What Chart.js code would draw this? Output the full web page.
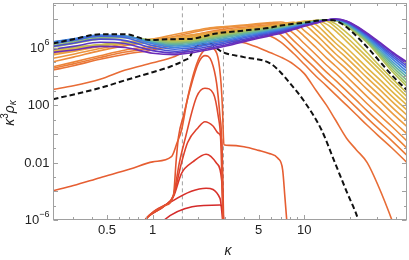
<!DOCTYPE html>
<html lang="en">
<head>
<meta charset="UTF-8">
<script src="https://cdn.jsdelivr.net/npm/chart.js@4.4.3/dist/chart.umd.min.js"></script>
<style>
  html, body { margin: 0; padding: 0; background: #fff; }
  canvas { display: block; }
</style>
</head>
<body>
<canvas id="chart" width="409" height="260"></canvas>
<script>
// all curve values are log10(κ³ρκ)
const kGrid = [0.22, 0.3, 0.45, 0.66, 1.0, 1.4, 1.8, 2.3, 3.0, 4.0, 5.0, 6.0, 7.0, 8.5, 10, 12, 14, 16, 19, 22, 26, 31, 38, 47.6];

// early, sharply peaked spectra
const pK1 = [1.12, 1.19, 2.78, 2.9, 2.97];
const p1  = [-6.5, -6.0, -4.95, -5.3, -7];
const pK2 = [0.85, 0.89, 1.33, 1.8, 2.25, 2.78, 2.95];
const p2  = [-6.4, -6.0, -4.72, -4.0, -3.79, -4.49, -7];
const pK3 = [0.85, 0.89, 1.2, 1.37, 1.55, 1.85, 2.25, 2.64, 2.85, 2.95];
const p3  = [-6.4, -6.0, -5.0, -4.38, -2.75, -1.94, -1.42, -2.05, -3.21, -7];
const pK4 = [0.85, 0.89, 1.2, 1.37, 1.55, 1.7, 2.0, 2.21, 2.5, 2.71, 2.85, 2.95];
const p4  = [-6.4, -6.0, -5.0, -4.3, -2.0, -0.6, 0.45, 0.85, 0.55, 0.04, -0.42, -7];
const pK5 = [0.85, 0.89, 1.2, 1.37, 1.5, 1.63, 1.95, 2.21, 2.51, 2.71, 2.81, 2.93];
const p5  = [-6.4, -6.0, -5.0, -4.3, -2.0, -0.42, 2.59, 3.18, 2.83, 1.2, -0.42, -7];
const pK6 = [0.85, 0.89, 1.2, 1.37, 1.43, 1.48, 1.6, 1.76, 2.0, 2.21, 2.45, 2.64, 2.78, 2.85, 2.92];
const p6  = [-6.4, -6.0, -5.0, -4.3, -1.8, -0.2, 1.3, 3.06, 4.92, 5.45, 5.03, 3.53, 1.2, -0.42, -7];
const rK7 = [0.22, 0.3, 0.45, 0.71, 1.0, 1.33, 1.45, 1.55, 1.7, 1.9, 2.1, 2.4, 2.65, 2.8, 2.88, 2.95, 3.2, 4.0, 5.0, 5.8, 6.7, 7.2, 7.45, 7.66, 7.8];
const r7  = [-3.96, -3.6, -3.05, -2.45, -1.95, -1.59, -0.6, 0.27, 2.5, 4.5, 5.6, 6.0, 5.6, 4.0, 2.0, -0.75, -0.8, -0.9, -1.15, -1.35, -1.7, -2.5, -4.4, -6.0, -7];

// intermediate spectra (orange -> gold), on kGrid
const o1  = [3.1, 3.35, 3.8, 4.45, 4.95, 5.4, 5.95, 6.3, 6.5, 6.35, 6.0, 5.65, 5.35, 4.85, 4.2, 3.0, 2.0, 1.0, -0.3, -1.1, -2.0, -3.7, -6.05, -9];
const o2  = [4.45, 4.75, 5.2, 5.55, 5.85, 6.2, 6.5, 6.75, 6.95, 7.05, 7.0, 6.8, 6.4, 5.6, 4.85, 4.0, 3.35, 2.75, 2.0, 1.35, 0.6, -0.15, -1.0, -2.0];
const o3  = [4.57, 4.88, 5.32, 5.7, 6.0, 6.4, 6.7, 6.95, 7.15, 7.28, 7.35, 7.3, 6.9, 6.05, 5.3, 4.5, 3.8, 3.25, 2.5, 1.85, 1.1, 0.35, -0.5, -1.5];
const o4  = [4.68, 5.0, 5.45, 5.85, 6.15, 6.55, 6.85, 7.1, 7.3, 7.43, 7.53, 7.6, 7.35, 6.5, 5.8, 5.0, 4.3, 3.75, 3.0, 2.35, 1.6, 0.85, 0.0, -1.0];
const o5  = [5.03, 5.35, 5.8, 6.15, 6.45, 6.8, 7.05, 7.28, 7.42, 7.53, 7.63, 7.7, 7.6, 7.0, 6.3, 5.5, 4.8, 4.25, 3.5, 2.85, 2.1, 1.35, 0.5, -0.5];
const o6  = [5.27, 5.55, 5.95, 6.28, 6.6, 6.92, 7.15, 7.36, 7.48, 7.58, 7.68, 7.75, 7.8, 7.45, 6.8, 6.0, 5.3, 4.75, 4.0, 3.35, 2.6, 1.85, 0.95, 0.0];
const o7  = [5.5, 5.75, 6.1, 6.4, 6.6, 6.75, 6.9, 7.05, 7.2, 7.35, 7.47, 7.57, 7.68, 7.78, 7.2, 6.5, 5.8, 5.2, 4.5, 3.85, 3.1, 2.35, 1.45, 0.5];
const o8  = [5.6, 5.82, 6.15, 6.4, 6.52, 6.65, 6.8, 6.98, 7.13, 7.3, 7.42, 7.52, 7.63, 7.75, 7.6, 6.9, 6.2, 5.6, 4.9, 4.25, 3.5, 2.75, 1.85, 0.9];
const o9  = [5.65, 5.85, 6.15, 6.38, 6.48, 6.6, 6.72, 6.92, 7.08, 7.25, 7.38, 7.48, 7.6, 7.72, 7.85, 7.25, 6.6, 6.0, 5.3, 4.65, 3.9, 3.15, 2.25, 1.3];
const o10 = [5.7, 5.88, 6.15, 6.36, 6.45, 6.55, 6.68, 6.88, 7.04, 7.21, 7.34, 7.45, 7.57, 7.7, 7.83, 7.6, 6.95, 6.35, 5.65, 5.0, 4.25, 3.5, 2.6, 1.65];
const o11 = [5.75, 5.92, 6.17, 6.35, 6.42, 6.5, 6.64, 6.84, 7.0, 7.18, 7.31, 7.42, 7.54, 7.68, 7.82, 7.9, 7.3, 6.7, 6.0, 5.35, 4.6, 3.85, 2.95, 2.0];
const o12 = [5.8, 5.95, 6.18, 6.34, 6.4, 6.45, 6.6, 6.8, 6.97, 7.15, 7.28, 7.4, 7.52, 7.66, 7.8, 7.9, 7.65, 7.2, 6.45, 5.8, 5.05, 4.25, 3.3, 2.3];
const o13 = [5.85, 6.0, 6.2, 6.34, 6.38, 6.42, 6.56, 6.76, 6.93, 7.12, 7.25, 7.37, 7.5, 7.64, 7.79, 7.9, 7.86, 7.45, 6.75, 6.1, 5.35, 4.55, 3.6, 2.6];
const o14 = [5.9, 6.04, 6.22, 6.34, 6.36, 6.4, 6.52, 6.72, 6.9, 7.09, 7.22, 7.35, 7.48, 7.62, 7.78, 7.9, 7.93, 7.68, 7.05, 6.45, 5.65, 4.8, 3.85, 2.85];

// late spectra (yellow-green -> purple), on kGrid
const b1  = [6.05, 6.3, 6.62, 6.7, 6.55, 6.45, 6.5, 6.72, 6.95, 7.17, 7.3, 7.4, 7.5, 7.63, 7.75, 7.88, 7.93, 7.9, 7.5, 7.0, 6.35, 5.45, 4.35, 3.3];
const b2  = [6.15, 6.4, 6.7, 6.75, 6.5, 6.38, 6.45, 6.66, 6.88, 7.1, 7.24, 7.35, 7.45, 7.6, 7.72, 7.87, 7.94, 7.92, 7.56, 7.07, 6.43, 5.58, 4.52, 3.5];
const b3  = [6.25, 6.48, 6.77, 6.78, 6.45, 6.3, 6.38, 6.59, 6.8, 7.03, 7.18, 7.3, 7.4, 7.56, 7.7, 7.86, 7.94, 7.93, 7.62, 7.14, 6.52, 5.7, 4.7, 3.72];
const b4  = [6.32, 6.55, 6.82, 6.8, 6.4, 6.22, 6.3, 6.5, 6.72, 6.95, 7.12, 7.25, 7.35, 7.52, 7.67, 7.84, 7.94, 7.95, 7.67, 7.2, 6.6, 5.83, 4.88, 3.95];
const b5  = [6.4, 6.6, 6.86, 6.82, 6.35, 6.12, 6.22, 6.42, 6.62, 6.87, 7.05, 7.19, 7.3, 7.48, 7.64, 7.82, 7.94, 7.96, 7.72, 7.27, 6.68, 5.95, 5.05, 4.15];
const b6  = [6.42, 6.62, 6.88, 6.8, 6.28, 6.02, 6.12, 6.32, 6.52, 6.79, 6.98, 7.13, 7.25, 7.44, 7.61, 7.8, 7.94, 7.97, 7.76, 7.33, 6.76, 6.07, 5.22, 4.35];
const b7  = [6.3, 6.52, 6.8, 6.7, 6.15, 5.9, 6.0, 6.2, 6.42, 6.7, 6.9, 7.06, 7.19, 7.4, 7.58, 7.78, 7.93, 7.98, 7.79, 7.39, 6.84, 6.18, 5.38, 4.55];
const b8  = [6.1, 6.32, 6.6, 6.5, 5.98, 5.76, 5.88, 6.07, 6.32, 6.6, 6.82, 6.99, 7.13, 7.35, 7.55, 7.76, 7.93, 7.99, 7.82, 7.44, 6.91, 6.28, 5.52, 4.72];
const b9  = [5.9, 6.1, 6.38, 6.28, 5.8, 5.64, 5.76, 5.95, 6.2, 6.5, 6.74, 6.92, 7.07, 7.31, 7.53, 7.74, 7.93, 8.0, 7.85, 7.48, 6.97, 6.37, 5.64, 4.87];
const b10 = [5.68, 5.85, 6.1, 6.02, 5.62, 5.52, 5.65, 5.85, 6.1, 6.42, 6.66, 6.85, 7.01, 7.27, 7.5, 7.72, 7.92, 8.0, 7.87, 7.52, 7.02, 6.43, 5.72, 5.0];

// black dashed reference curves
const dashHiK = [0.22, 0.3, 0.45, 0.66, 0.96, 1.3, 1.76, 2.64, 4.0, 5.94, 7.0, 10, 14, 15.5, 17.5, 20, 25.8, 31.6, 38.6, 47.6];
const dashHi  = [6.3, 6.6, 6.94, 6.94, 6.54, 6.6, 6.62, 7.0, 7.2, 7.4, 7.55, 7.75, 7.94, 7.92, 7.7, 7.24, 6.08, 5.03, 3.99, 3.05];
const dashLoK = [0.22, 0.45, 0.67, 1.0, 1.3, 1.6, 1.76, 1.85, 2.1, 2.4, 2.62, 2.85, 4.0, 5.95, 6.92, 8.05, 9.85, 13.0, 16, 19, 22.7, 24];
const dashLo  = [2.41, 3.2, 3.76, 4.3, 4.68, 5.1, 5.38, 5.85, 6.25, 6.3, 6.0, 5.73, 5.35, 4.92, 4.33, 3.53, 2.36, 0.27, -2.06, -4.0, -6.0, -7];

// vertical markers
const markK = [1.57, 2.93];

// axes
const kMin = 0.22, kMax = 47.6;
const rhoMin = 1e-6, rhoMax = 10 ** 9.12;
const xMajor = [0.5, 1, 5, 10];
const xMinor = [0.3, 0.4, 0.6, 0.7, 0.8, 0.9, 2, 3, 4, 6, 7, 8, 9, 20, 30, 40];
const yMajor = [1e-6, 1e-4, 1e-2, 1, 1e2, 1e4, 1e6, 1e8];
const yMinor = [1e-5, 1e-3, 0.1, 10, 1e3, 1e5, 1e7, 1e9];
const yLabels = [[1e-6, '10', '−6'], [1e-2, '0.01', ''], [1e2, '100', ''], [1e6, '10', '6']];

const pColors = ['#d42a2a', '#d8302a', '#dc382b', '#de402c', '#e04a2e', '#e25430'];
const oColors = ['#e86c36', '#e97437', '#ea7c38', '#ec843a', '#ec8c3c', '#ec943e', '#eb9c40',
                 '#e9a342', '#e7aa44', '#e4b045', '#e0b446', '#dcb847', '#d4bc4a', '#cac04e'];
const bColors = ['#b8c256', '#9cc068', '#7cba84', '#60b0a4', '#4c9cc8', '#4282e0', '#4466dc', '#4c4cd0', '#5c38c4', '#6c2cb8'];

const FONT = '"Liberation Sans", Arial, sans-serif';

function pts(xs, ys) {
  return xs.map((x, i) => ({ x, y: 10 ** ys[i] }));
}

// bottom-most first
const layers = [];
markK.forEach(k => layers.push({ data: [{ x: k, y: rhoMin / 10 }, { x: k, y: rhoMax * 10 }], color: '#a0a0a0', width: 1, dash: [4, 3], straight: true }));
[[pK1, p1], [pK2, p2], [pK3, p3], [pK4, p4], [pK5, p5], [pK6, p6]].forEach((c, i) =>
  layers.push({ data: pts(c[0], c[1]), color: pColors[i], width: 1.6 }));
layers.push({ data: pts(rK7, r7), color: '#e65e32', width: 1.6 });
[o1, o2, o3, o4, o5, o6, o7, o8, o9, o10, o11, o12, o13, o14].forEach((c, i) =>
  layers.push({ data: pts(kGrid, c), color: oColors[i], width: 1.6 }));
layers.push({ data: pts(dashLoK, dashLo), color: '#111', width: 2, dash: [5.5, 3] });
[b1, b2, b3, b4, b5, b6, b7, b8, b9, b10].forEach((c, i) =>
  layers.push({ data: pts(kGrid, c), color: bColors[i], width: 1.6 }));
layers.push({ data: pts(dashHiK, dashHi), color: '#111', width: 2, dash: [5.5, 3] });

const datasets = layers.map((l, i) => ({
  data: l.data,
  borderColor: l.color,
  borderWidth: l.width,
  borderDash: l.dash || [],
  borderJoinStyle: 'round',
  pointRadius: 0,
  fill: false,
  tension: 0,
  cubicInterpolationMode: l.straight ? 'default' : 'monotone',
  order: layers.length - i
}));

const framePlugin = {
  id: 'frame',
  afterDatasetsDraw(chart) {
    const { ctx, chartArea: a, scales: { x, y } } = chart;
    const L = Math.round(a.left) + 0.5, R = Math.round(a.right) - 0.5;
    const T = Math.round(a.top) + 0.5, B = Math.round(a.bottom) - 0.5;
    ctx.save();
    ctx.strokeStyle = '#a0a0a0';
    ctx.lineWidth = 1;
    ctx.strokeRect(L, T, R - L, B - T);

    ctx.beginPath();
    const xt = (v, len) => {
      const p = Math.round(x.getPixelForValue(v)) + 0.5;
      ctx.moveTo(p, B); ctx.lineTo(p, B - len);
      ctx.moveTo(p, T); ctx.lineTo(p, T + len);
    };
    const yt = (v, len) => {
      const p = Math.round(y.getPixelForValue(v)) + 0.5;
      ctx.moveTo(L, p); ctx.lineTo(L + len, p);
      ctx.moveTo(R, p); ctx.lineTo(R - len, p);
    };
    xMajor.forEach(v => xt(v, 4.5));
    xMinor.forEach(v => xt(v, 2.5));
    yMajor.forEach(v => yt(v, 4.5));
    yMinor.forEach(v => yt(v, 2.5));
    ctx.stroke();

    // y tick labels with superscripts
    ctx.fillStyle = '#222';
    ctx.textBaseline = 'middle';
    ctx.textAlign = 'left';
    yLabels.forEach(([v, base, sup]) => {
      const cy = y.getPixelForValue(v);
      ctx.font = '13px ' + FONT;
      const wb = ctx.measureText(base).width;
      ctx.font = '9px ' + FONT;
      const ws = sup ? ctx.measureText(sup).width : 0;
      const x0 = 49.5 - wb - ws;
      ctx.font = '13px ' + FONT;
      ctx.fillText(base, x0, cy + 0.5);
      if (sup) {
        ctx.font = '9px ' + FONT;
        ctx.fillText(sup, x0 + wb, cy - 5);
      }
    });

    // y axis title  κ³ρκ
    ctx.save();
    ctx.translate(10, 113);
    ctx.rotate(-Math.PI / 2);
    const parts = [
      ['κ', 'italic 14px ' + FONT, 0],
      ['3', '10px ' + FONT, -5],
      ['ρ', 'italic 14px ' + FONT, 0],
      ['κ', 'italic 10px ' + FONT, 3]
    ];
    let w = 0;
    parts.forEach(p => { ctx.font = p[1]; w += ctx.measureText(p[0]).width; });
    let cx = -w / 2;
    parts.forEach(p => {
      ctx.font = p[1];
      ctx.fillText(p[0], cx, p[2]);
      cx += ctx.measureText(p[0]).width;
    });
    ctx.restore();

    // x axis title
    ctx.textAlign = 'center';
    ctx.font = 'italic 14px ' + FONT;
    ctx.fillText('κ', 228, 251);
    ctx.restore();
  }
};

new Chart(document.getElementById('chart'), {
  type: 'line',
  data: { datasets },
  options: {
    responsive: false,
    animation: false,
    devicePixelRatio: 1,
    layout: { padding: { left: 0, right: 2, top: 3, bottom: 0 } },
    plugins: { legend: { display: false }, tooltip: { enabled: false } },
    scales: {
      x: {
        type: 'logarithmic',
        min: kMin,
        max: kMax,
        afterFit: s => { s.height = 40; },
        afterBuildTicks: s => { s.ticks = xMajor.map(v => ({ value: v })); },
        grid: { display: false, drawTicks: false },
        border: { display: false },
        ticks: {
          autoSkip: false,
          maxRotation: 0,
          padding: 3,
          color: '#222',
          font: { family: FONT, size: 13 },
          callback: v => String(v)
        }
      },
      y: {
        type: 'logarithmic',
        min: rhoMin,
        max: rhoMax,
        afterFit: s => { s.width = 53; },
        grid: { display: false, drawTicks: false },
        border: { display: false },
        ticks: { display: false }
      }
    }
  },
  plugins: [framePlugin]
});
</script>
</body>
</html>
